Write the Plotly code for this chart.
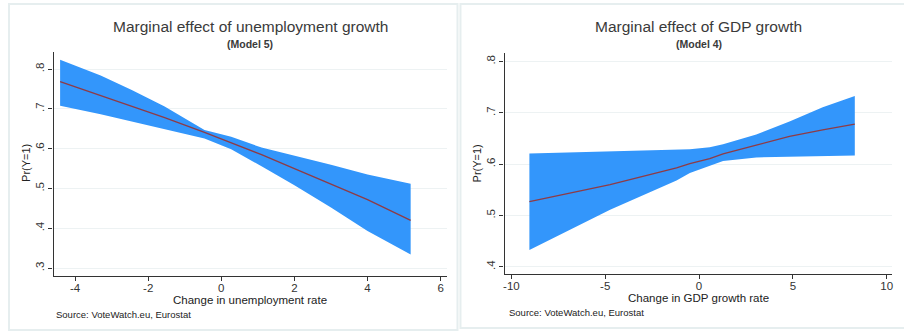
import plotly.graph_objects as go

W, H = 904, 331

# ---------------- data ----------------
unemp_x = [-4.41, -3.3, -2.45, -1.55, -0.46, 0.27, 1.1, 2.0, 3.0, 4.0, 5.18]
unemp_upper = [0.824, 0.784, 0.748, 0.706, 0.647, 0.630, 0.603, 0.583, 0.560, 0.535, 0.512]
unemp_lower = [0.708, 0.687, 0.668, 0.649, 0.626, 0.599, 0.556, 0.508, 0.452, 0.393, 0.334]
unemp_fit = [0.769, 0.734, 0.707, 0.678, 0.641, 0.615, 0.585, 0.550, 0.511, 0.472, 0.420]

gdp_x = [-9.04, -4.74, -1.2, -0.49, 0.57, 1.28, 3.05, 4.82, 6.59, 8.3]
gdp_upper = [0.621, 0.625, 0.628, 0.629, 0.633, 0.639, 0.658, 0.683, 0.711, 0.733]
gdp_lower = [0.433, 0.511, 0.568, 0.583, 0.597, 0.606, 0.613, 0.615, 0.616, 0.617]
gdp_fit = [0.527, 0.560, 0.593, 0.601, 0.611, 0.620, 0.637, 0.654, 0.667, 0.678]

unemp_xticks = [-4, -2, 0, 2, 4, 6]
unemp_xticklabels = ["-4", "-2", "0", "2", "4", "6"]
unemp_yticks = [0.3, 0.4, 0.5, 0.6, 0.7, 0.8]
unemp_yticklabels = [".3", ".4", ".5", ".6", ".7", ".8"]

gdp_xticks = [-10, -5, 0, 5, 10]
gdp_xticklabels = ["-10", "-5", "0", "5", "10"]
gdp_yticks = [0.4, 0.5, 0.6, 0.7, 0.8]
gdp_yticklabels = [".4", ".5", ".6", ".7", ".8"]

titles = ["Marginal effect of unemployment growth", "Marginal effect of GDP growth"]
subtitles = ["(Model 5)", "(Model 4)"]
xtitles = ["Change in unemployment rate", "Change in GDP growth rate"]
ytitle = "Pr(Y=1)"
source = "Source: VoteWatch.eu, Eurostat"

# ---------------- styling ----------------
BAND = "#3396fb"
LINE = "#8e3b46"
FONT = "Liberation Sans, Arial, sans-serif"


def px_x(p):
    return p / W


def px_y(p):
    return 1 - p / H


fig = go.Figure()

fig.add_trace(go.Scatter(
    x=unemp_x + unemp_x[::-1], y=unemp_upper + unemp_lower[::-1],
    fill="toself", fillcolor=BAND, line=dict(width=0), mode="lines",
    hoverinfo="skip", showlegend=False, xaxis="x", yaxis="y"))
fig.add_trace(go.Scatter(
    x=unemp_x, y=unemp_fit, mode="lines", line=dict(color=LINE, width=1.3),
    showlegend=False, xaxis="x", yaxis="y"))

fig.add_trace(go.Scatter(
    x=gdp_x + gdp_x[::-1], y=gdp_upper + gdp_lower[::-1],
    fill="toself", fillcolor=BAND, line=dict(width=0), mode="lines",
    hoverinfo="skip", showlegend=False, xaxis="x2", yaxis="y2"))
fig.add_trace(go.Scatter(
    x=gdp_x, y=gdp_fit, mode="lines", line=dict(color=LINE, width=1.3),
    showlegend=False, xaxis="x2", yaxis="y2"))

common_x = dict(showgrid=False, zeroline=False, showline=True, linecolor="#333",
                linewidth=1.4, ticks="outside", ticklen=4, tickcolor="#333",
                ticklabelstandoff=-3,
                tickfont=dict(family=FONT, size=11.5, color="#333"))
common_y = dict(showgrid=True, gridcolor="#edf2f3", gridwidth=1, zeroline=False,
                showline=True, linecolor="#333", linewidth=1.4, ticks="outside",
                ticklen=4, tickcolor="#333", tickangle=-90,
                tickfont=dict(family=FONT, size=11.5, color="#333"))

fig.update_layout(
    width=W, height=H, margin=dict(l=0, r=0, t=0, b=0),
    paper_bgcolor="white", plot_bgcolor="white",
    xaxis=dict(domain=[px_x(51.7), px_x(446.7)], range=[-4.59, 6.18],
               tickvals=unemp_xticks, ticktext=unemp_xticklabels, anchor="y", **common_x),
    yaxis=dict(domain=[px_y(276), px_y(51.7)], range=[0.28, 0.844],
               tickvals=unemp_yticks, ticktext=unemp_yticklabels, anchor="x", **common_y),
    xaxis2=dict(domain=[px_x(504.3), px_x(893.3)], range=[-10.36, 10.3],
                tickvals=gdp_xticks, ticktext=gdp_xticklabels, anchor="y2", **common_x),
    yaxis2=dict(domain=[px_y(274), px_y(53.3)], range=[0.386, 0.816],
                tickvals=gdp_yticks, ticktext=gdp_yticklabels, anchor="x2", **common_y),
)

# panel frames
for x0, x1, y0, y1 in [(7, 457, 4, 330), (460, 910, 4, 328)]:
    fig.add_shape(type="rect", xref="paper", yref="paper",
                  x0=px_x(x0), x1=px_x(x1), y0=px_y(y1), y1=px_y(y0),
                  line=dict(color="#e6eeef", width=2), layer="below")

panel_cx = [249, 699]
ytitle_x = [24, 477]
ytitle_y = [163, 163]
xtitle_y = [300, 298]
source_x = [52, 507]
source_y = [314, 312]

for i in range(2):
    fig.add_annotation(text=titles[i], xref="paper", yref="paper",
                       x=px_x(panel_cx[i]), y=px_y(26), showarrow=False,
                       xanchor="center", yanchor="middle",
                       font=dict(family=FONT, size=15.5, color="#3a3a3a"))
    fig.add_annotation(text="<b>" + subtitles[i] + "</b>", xref="paper", yref="paper",
                       x=px_x(panel_cx[i]), y=px_y(44), showarrow=False,
                       xanchor="center", yanchor="middle",
                       font=dict(family=FONT, size=10.5, color="#3a3a3a"))
    fig.add_annotation(text=xtitles[i], xref="paper", yref="paper",
                       x=px_x(panel_cx[i]), y=px_y(xtitle_y[i]), showarrow=False,
                       xanchor="center", yanchor="middle",
                       font=dict(family=FONT, size=11.5, color="#222"))
    fig.add_annotation(text=ytitle, xref="paper", yref="paper",
                       x=px_x(ytitle_x[i]), y=px_y(ytitle_y[i]), showarrow=False,
                       xanchor="center", yanchor="middle", textangle=-90,
                       font=dict(family=FONT, size=11, color="#222"))
    fig.add_annotation(text=source, xref="paper", yref="paper",
                       x=px_x(source_x[i]), y=px_y(source_y[i]), showarrow=False,
                       xanchor="left", yanchor="middle",
                       font=dict(family=FONT, size=9.5, color="#222"))

fig.write_html("out.html")
